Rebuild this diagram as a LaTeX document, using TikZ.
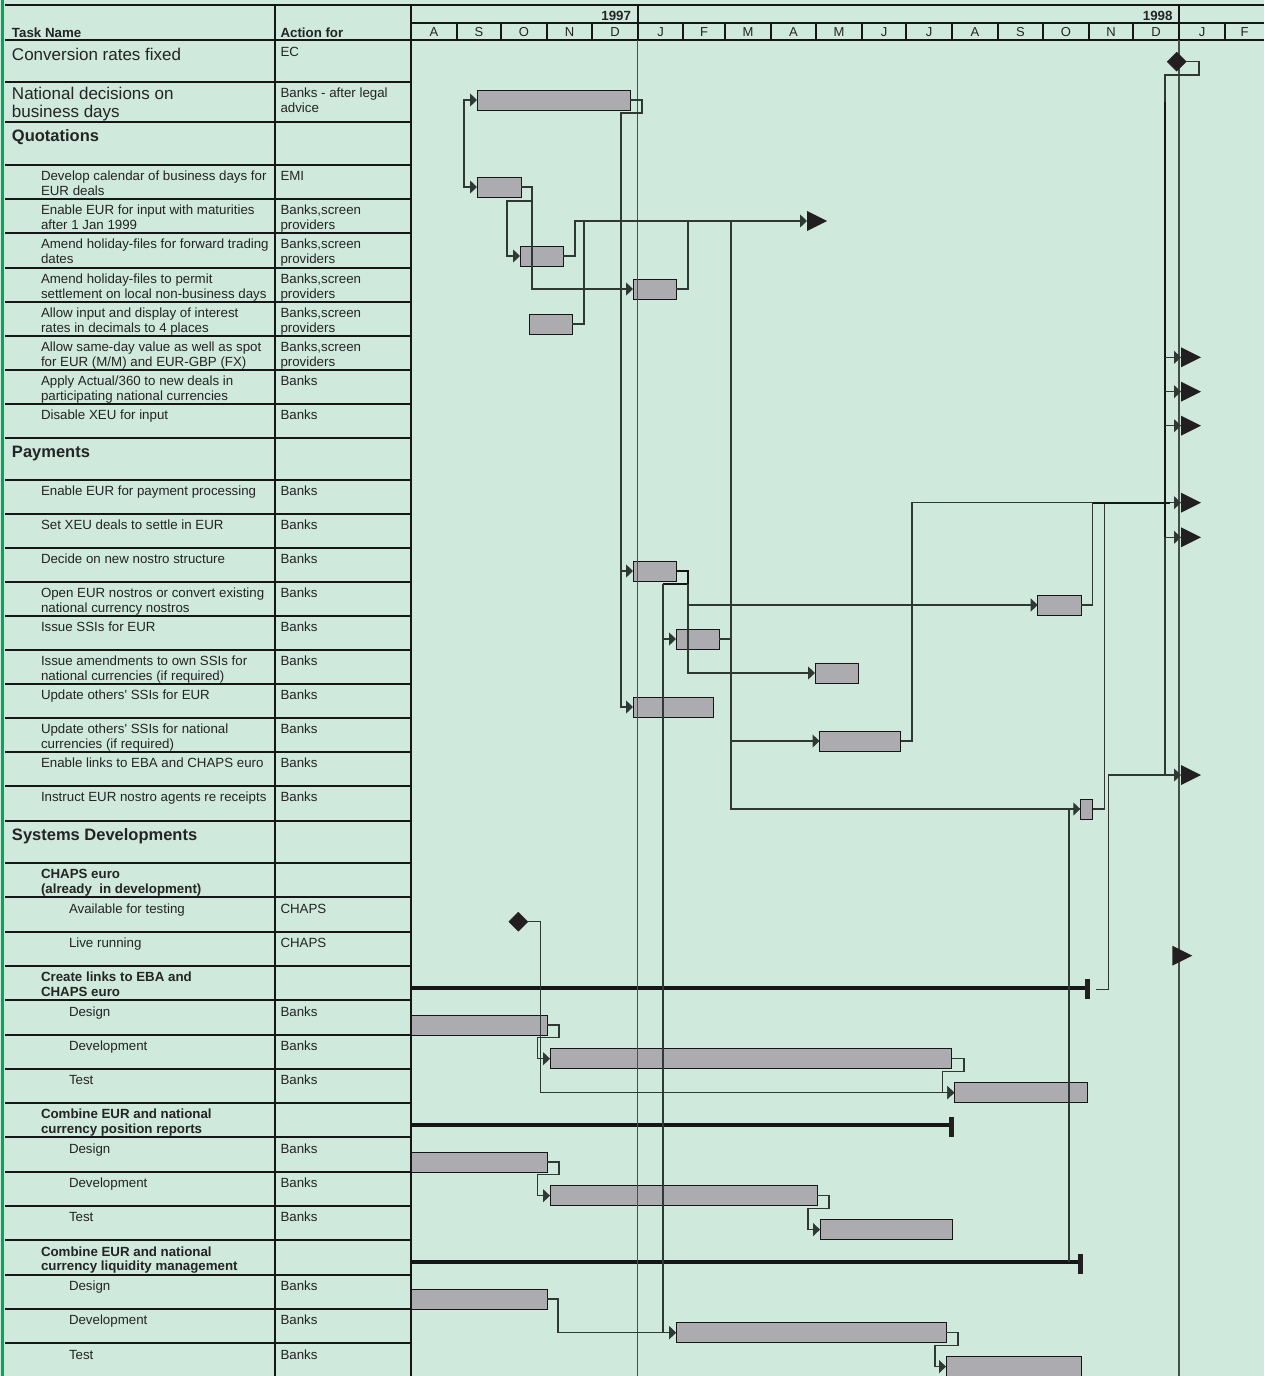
\documentclass[tikz,border=0pt]{standalone}
\usepackage{fontspec}
\setmainfont{Liberation Sans}
\usetikzlibrary{arrows.meta,shapes.geometric}
\definecolor{bg}{RGB}{207,233,220}
\definecolor{grn}{RGB}{0,168,90}
\definecolor{ln}{RGB}{22,22,22}
\definecolor{tc}{RGB}{36,36,36}
\definecolor{barfill}{RGB}{171,171,176}
\definecolor{cnc}{RGB}{48,56,52}
\definecolor{yl}{RGB}{70,80,75}
\definecolor{mk}{RGB}{35,31,32}
\newcommand\gtri[1]{\fill[mk] (#1) ++(0,-10) -- ++(20,10) -- ++(-20,10) -- cycle;}
\begin{document}
\begin{tikzpicture}[x=1pt,y=-1pt,
  tx/.style={anchor=base west, inner sep=0pt, outer sep=0pt, text=tc, font=\fontsize{13.3}{14.7}\selectfont},
  txb/.style={tx, font=\bfseries\fontsize{13.3}{14.7}\selectfont},
  big/.style={tx, font=\fontsize{17}{18}\selectfont},
  headtx/.style={tx, font=\bfseries\fontsize{16.5}{18}\selectfont},
  mon/.style={anchor=base, inner sep=0pt, text=tc, font=\fontsize{13}{14}\selectfont},
  grid/.style={line width=2pt, draw=ln},
  bar/.style={shape=rectangle, draw=ln, line width=1pt, fill=barfill, inner sep=0pt, outer sep=0pt, minimum height=20pt, anchor=west},
  sumbar/.style={shape=rectangle, fill=ln, inner sep=0pt, outer sep=0pt, minimum height=4pt, anchor=west},
  capbox/.style={shape=rectangle, fill=mk, inner sep=0pt, outer sep=0pt, minimum width=5pt, minimum height=20pt},
  ms/.style={diamond, fill=mk, draw=mk, inner sep=0pt, outer sep=0pt, minimum width=19pt, minimum height=19pt},
  cnl/.style={draw=cnc, line width=1.2pt},
  cn/.style={cnl, -{Triangle[length=7pt,width=13pt]}},
  thk/.style={draw=ln, line width=2.4pt}
]
\fill[bg] (0,0) rectangle (1264,1376);
\useasboundingbox (0,0) rectangle (1264,1376);
\draw[grn, line width=3pt] (2.5,0) -- (2.5,1376);

% ---------- table grid ----------
\draw[grid] (5,5) -- (1264,5);
\draw[grid] (5,40) -- (1264,40);
\draw[ln, line width=1.2pt] (411,23) -- (1264,23);
\draw[grid] (275,5) -- (275,1376);
\draw[grid] (410.5,5) -- (410.5,1376);
\foreach \x in {457,501,547,592,683,725,771,816,862,906,952,998,1043,1089,1133,1225}
  \draw[grid] (\x,23) -- (\x,40);
\draw[grid] (637.7,5) -- (637.7,40);
\draw[grid] (1179,5) -- (1179,40);
\foreach \y in {82,122,165,199,233,267.5,302,336,370,404,438,480,514,548,582,616,650,684,718,752,786,821,863,897.3,931.6,965.9,1000.2,1034.5,1068.8,1103.1,1137.4,1171.7,1206,1240.3,1274.6,1308.9,1343.2}
  \draw[grid] (5,\y) -- (410.5,\y);

% ---------- header texts ----------
\node[txb] (hTask) at (12,37.3) {Task Name};
\node[txb] (hAct) at (280.5,37.3) {Action for};
\node[txb, anchor=base east] (y97) at (631,20) {1997};
\node[txb, anchor=base east] (y98) at (1172.5,20) {1998};
\foreach \m/\x [count=\i] in {A/434,S/479,O/524,N/569.5,D/615,J/660.5,F/704,M/748,A/793.5,M/839,J/884,J/929,A/975,S/1020.5,O/1066,N/1111,D/1156,J/1202,F/1244.5}
  \node[mon] (mo\i) at (\x,36.7) {\m};

% ---------- task texts ----------
\node[big] (r1) at (12,60) {Conversion rates fixed};
\node[tx] (a1) at (280.5,56.5) {EC};
\node[big] (r2) at (12,99.5) {National decisions on};
\node[big] (r2b) at (12,117.5) {business days};
\node[tx] (a2) at (280.5,97.8) {Banks - after legal};
\node[tx] (a2b) at (280.5,112.5) {advice};
\node[headtx] (h1) at (12,141.5) {Quotations};
\node[tx] (r4) at (41,180.8) {Develop calendar of business days for};
\node[tx] (r4b) at (41,195.5) {EUR deals};
\node[tx] (a4) at (280.5,180.8) {EMI};
\node[tx] (r5) at (41,214.8) {Enable EUR for input with maturities};
\node[tx] (r5b) at (41,229.5) {after 1 Jan 1999};
\node[tx] (a5) at (280.5,214.8) {Banks,screen};
\node[tx] (a5b) at (280.5,229.5) {providers};
\node[tx] (r6) at (41,248.8) {Amend holiday-files for forward trading};
\node[tx] (r6b) at (41,263.5) {dates};
\node[tx] (a6) at (280.5,248.8) {Banks,screen};
\node[tx] (a6b) at (280.5,263.5) {providers};
\node[tx] (r7) at (41,283.3) {Amend holiday-files to permit};
\node[tx] (r7b) at (41,298) {settlement on local non-business days};
\node[tx] (a7) at (280.5,283.3) {Banks,screen};
\node[tx] (a7b) at (280.5,298) {providers};
\node[tx] (r8) at (41,317.8) {Allow input and display of interest};
\node[tx] (r8b) at (41,332.5) {rates in decimals to 4 places};
\node[tx] (a8) at (280.5,317.8) {Banks,screen};
\node[tx] (a8b) at (280.5,332.5) {providers};
\node[tx] (r9) at (41,351.8) {Allow same-day value as well as spot};
\node[tx] (r9b) at (41,366.5) {for EUR (M/M) and EUR-GBP (FX)};
\node[tx] (a9) at (280.5,351.8) {Banks,screen};
\node[tx] (a9b) at (280.5,366.5) {providers};
\node[tx] (r10) at (41,385.8) {Apply Actual/360 to new deals in};
\node[tx] (r10b) at (41,400.5) {participating national currencies};
\node[tx] (a10) at (280.5,385.8) {Banks};
\node[tx] (r11) at (41,419.8) {Disable XEU for input};
\node[tx] (a11) at (280.5,419.8) {Banks};
\node[headtx] (h2) at (12,457.5) {Payments};
\node[tx] (r13) at (41,495.8) {Enable EUR for payment processing};
\node[tx] (a13) at (280.5,495.8) {Banks};
\node[tx] (r14) at (41,529.8) {Set XEU deals to settle in EUR};
\node[tx] (a14) at (280.5,529.8) {Banks};
\node[tx] (r15) at (41,563.8) {Decide on new nostro structure};
\node[tx] (a15) at (280.5,563.8) {Banks};
\node[tx] (r16) at (41,597.8) {Open EUR nostros or convert existing};
\node[tx] (r16b) at (41,612.5) {national currency nostros};
\node[tx] (a16) at (280.5,597.8) {Banks};
\node[tx] (r17) at (41,631.8) {Issue SSIs for EUR};
\node[tx] (a17) at (280.5,631.8) {Banks};
\node[tx] (r18) at (41,665.8) {Issue amendments to own SSIs for};
\node[tx] (r18b) at (41,680.5) {national currencies (if required)};
\node[tx] (a18) at (280.5,665.8) {Banks};
\node[tx] (r19) at (41,699.8) {Update others\textquotesingle\ SSIs for EUR};
\node[tx] (a19) at (280.5,699.8) {Banks};
\node[tx] (r20) at (41,733.8) {Update others\textquotesingle\ SSIs for national};
\node[tx] (r20b) at (41,748.5) {currencies (if required)};
\node[tx] (a20) at (280.5,733.8) {Banks};
\node[tx] (r21) at (41,767.8) {Enable links to EBA and CHAPS euro};
\node[tx] (a21) at (280.5,767.8) {Banks};
\node[tx] (r22) at (41,801.8) {Instruct EUR nostro agents re receipts};
\node[tx] (a22) at (280.5,801.8) {Banks};
\node[headtx] (h3) at (12,840.5) {Systems Developments};
\node[txb] (r24) at (41,878.8) {CHAPS euro};
\node[txb] (r24b) at (41,893.5) {(already~ in development)};
\node[tx] (r25) at (69,913.1) {Available for testing};
\node[tx] (a25) at (280.5,913.1) {CHAPS};
\node[tx] (r26) at (69,947.4) {Live running};
\node[tx] (a26) at (280.5,947.4) {CHAPS};
\node[txb] (r27) at (41,981.7) {Create links to EBA and};
\node[txb] (r27b) at (41,996.4) {CHAPS euro};
\node[tx] (r28) at (69,1016) {Design};
\node[tx] (a28) at (280.5,1016) {Banks};
\node[tx] (r29) at (69,1050.3) {Development};
\node[tx] (a29) at (280.5,1050.3) {Banks};
\node[tx] (r30) at (69,1084.6) {Test};
\node[tx] (a30) at (280.5,1084.6) {Banks};
\node[txb] (r31) at (41,1118.9) {Combine EUR and national};
\node[txb] (r31b) at (41,1133.6) {currency position reports};
\node[tx] (r32) at (69,1153.2) {Design};
\node[tx] (a32) at (280.5,1153.2) {Banks};
\node[tx] (r33) at (69,1187.5) {Development};
\node[tx] (a33) at (280.5,1187.5) {Banks};
\node[tx] (r34) at (69,1221.8) {Test};
\node[tx] (a34) at (280.5,1221.8) {Banks};
\node[txb] (r35) at (41,1256.1) {Combine EUR and national};
\node[txb] (r35b) at (41,1270.8) {currency liquidity management};
\node[tx] (r36) at (69,1290.4) {Design};
\node[tx] (a36) at (280.5,1290.4) {Banks};
\node[tx] (r37) at (69,1324.7) {Development};
\node[tx] (a37) at (280.5,1324.7) {Banks};
\node[tx] (r38) at (69,1359) {Test};
\node[tx] (a38) at (280.5,1359) {Banks};

% ---------- bars ----------
\node[bar, minimum width=153pt] (b2) at (477,100) {};
\node[bar, minimum width=44pt] (b4) at (477,187) {};
\node[bar, minimum width=43pt] (b6) at (520,256) {};
\node[bar, minimum width=43pt] (b7) at (633,289) {};
\node[bar, minimum width=43pt] (b8) at (529,324) {};
\node[bar, minimum width=43pt] (b14) at (633,571) {};
\node[bar, minimum width=43.3pt] (b15) at (1037.7,605) {};
\node[bar, minimum width=43pt] (b16) at (676,639) {};
\node[bar, minimum width=43pt] (b17) at (815,673) {};
\node[bar, minimum width=80pt] (b18) at (633,707) {};
\node[bar, minimum width=81pt] (b19) at (819.5,741) {};
\node[bar, minimum width=12.4pt] (b21) at (1080.3,809) {};
\node[bar, minimum width=136pt] (d1) at (411,1025) {};
\node[bar, minimum width=401.7pt] (v1) at (550,1058.7) {};
\node[bar, minimum width=132.7pt] (t1) at (954.3,1092.6) {};
\node[bar, minimum width=136pt] (d2) at (411,1162) {};
\node[bar, minimum width=267pt] (v2) at (550,1195.7) {};
\node[bar, minimum width=132pt] (t2) at (820,1229.6) {};
\node[bar, minimum width=136pt] (d3) at (411,1299) {};
\node[bar, minimum width=270pt] (v3) at (676,1332.7) {};
\node[bar, minimum width=135pt] (t3) at (946,1366.6) {};

% summary bars
\node[sumbar, minimum width=676pt] (s1) at (411,987.7) {};
\node[capbox] (s1e) at (1087,989.3) {};
\node[sumbar, minimum width=540pt] (s2) at (411,1125) {};
\node[capbox] (s2e) at (951.5,1126.5) {};
\node[sumbar, minimum width=669pt] (s3) at (411,1262) {};
\node[capbox] (s3e) at (1080,1263.5) {};

% year lines
\draw[yl, line width=1.5pt] (637.7,40) -- (637.7,1376);
\draw[yl, line width=1.5pt] (1179,40) -- (1179,1376);

% milestones
\node[ms] (m0) at (1176.7,61.7) {};
\node[ms] (m1) at (518.3,921.7) {};
\coordinate (q0) at (807,221);
\coordinate (q1) at (1181,357.3);
\coordinate (q2) at (1181,391.7);
\coordinate (q3) at (1181,425.7);
\coordinate (q4) at (1181,502.7);
\coordinate (q5) at (1181,537.3);
\coordinate (q6) at (1181,775);
\coordinate (q7) at (1172.3,955.7);
\gtri{q0}\gtri{q1}\gtri{q2}\gtri{q3}\gtri{q4}\gtri{q5}\gtri{q6}\gtri{q7}

% ---------- connectors: quotations ----------
\draw[cnl, {Triangle[length=7pt,width=13pt]}-{Triangle[length=7pt,width=13pt]}] (b2.west) -- (464,100) -- (464,187) -- (b4.west);
\draw[cn] (b2.east) -- (642,100) -- (642,113) -- (621,113) |- (b18.west);
\draw[cn] (621,571) -- (b14.west);
\draw[cn] (b4.east) -- (532,187) |- (b7.west);
\draw[cn] (532,201) -- (507,201) |- (b6.west);
\draw[cn] (b6.east) -- (575,256) |- (q0);
\draw[cnl] (b8.east) -- (584,324) -- (584,221);
\draw[cnl] (b7.east) -- (688,289) -- (688,221);
\draw[cn] (731,221) |- (b21.west);
\draw[cnl] (b16.east) -- (731,639);
\draw[cn] (731,741) -- (b19.west);

% ---------- connectors: payments ----------
\draw[thk] (b14.east) -- (688,571) -- (688,584) -- (663,584);
\draw[cn] (663,584) |- (v3.west);
\draw[cn] (663,639) -- (b16.west);
\draw[cn] (688,584) |- (b17.west);
\draw[cn] (688,605) -- (b15.west);
\draw[cn] (b19.east) -- (912,741) |- (q4);
\draw[cnl] (b15.east) -- (1092.7,605) -- (1092.7,502.7);
\draw[cnl] (b21.east) -- (1104.3,809) -- (1104.3,502.7);
\draw[thk, line width=1.8pt] (1092.7,502.7) -- (1170,502.7);
\draw[cnl] (m0.east) -- (1199,61.7) -- (1199,75) -- (1165,75) -- (1165,775);
\draw[thk] (1165,101.7) -- (1165,537.3);
\draw[cn] (1165,357.3) -- (q1);
\draw[cn] (1165,391.7) -- (q2);
\draw[cn] (1165,425.7) -- (q3);
\draw[cn] (1165,537.3) -- (q5);
\draw[cn] (1108.3,775) -- (q6);
\draw[cnl] (1096,989.3) -- (1108.3,989.3) -- (1108.3,775);
\draw[cnl] (1069,1262) -- (1069,809);

% ---------- connectors: systems ----------
\draw[cn] (m1.east) -- (540.3,921.7) |- (t1.west);
\draw[cn] (d1.east) -- (559,1025) -- (559,1037.3) -- (537.3,1037.3) |- (v1.west);
\draw[cn] (v1.east) -- (964,1058.7) -- (964,1071.7) -- (942.7,1071.7) |- (t1.west);
\draw[cn] (d2.east) -- (559,1162) -- (559,1174.3) -- (537.3,1174.3) |- (v2.west);
\draw[cn] (v2.east) -- (829,1195.7) -- (829,1208.7) -- (808,1208.7) |- (t2.west);
\draw[cn] (d3.east) -- (558,1299) |- (v3.west);
\draw[cn] (v3.east) -- (958,1332.7) -- (958,1345.7) -- (935,1345.7) |- (t3.west);
\end{tikzpicture}
\end{document}
